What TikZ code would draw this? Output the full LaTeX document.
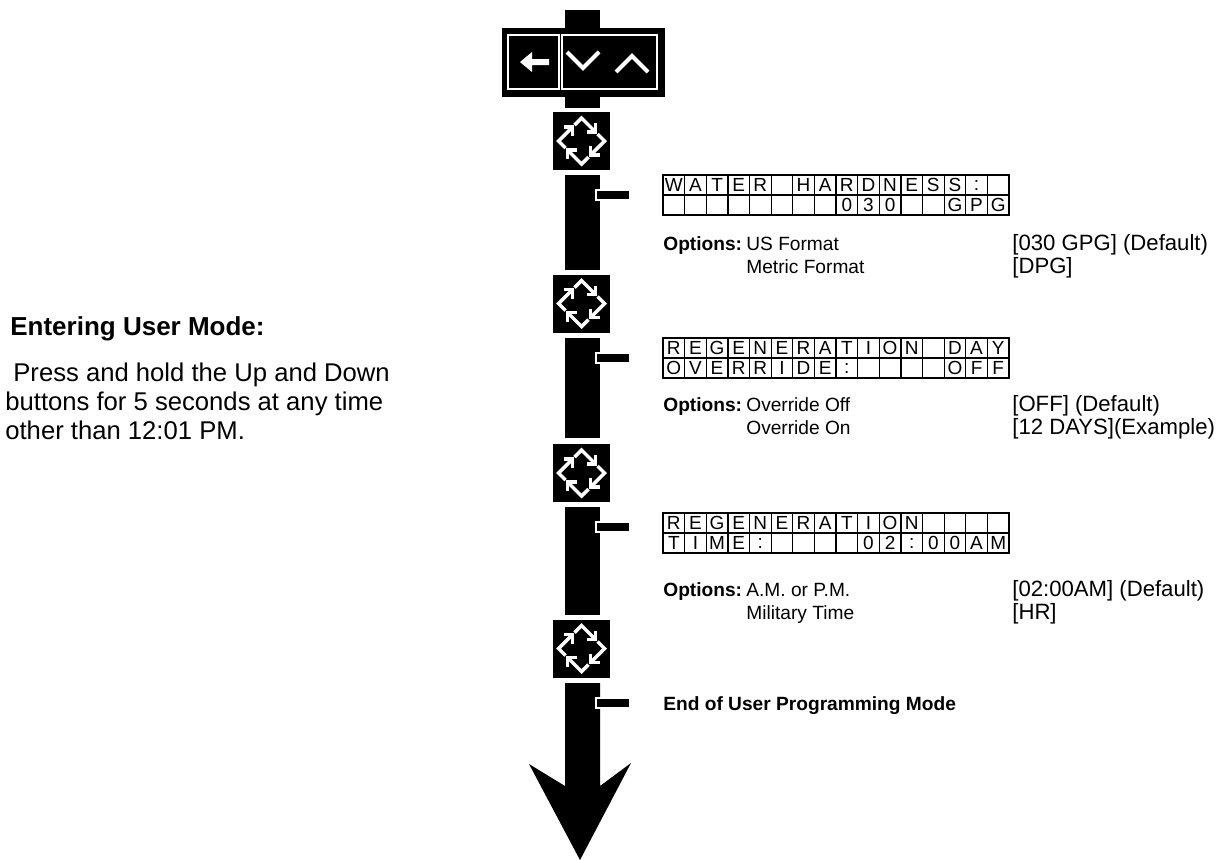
\documentclass[tikz,border=0pt]{standalone}
\usepackage{fontspec}
\setmainfont{Liberation Sans}
\begin{document}
\begin{tikzpicture}[x=0.02cm, y=-0.02cm,
  stembar/.style={fill=black},
  tickbar/.style={fill=black, draw=white, line width=0.6pt},
  cyclebox/.style={fill=black, minimum width=1.14cm, minimum height=1.16cm, inner sep=0},
  cyclearrow/.style={white, line width=2pt},
  keyline/.style={white, line width=1.1pt},
  lcdcell/.style={draw, line width=0.7pt, minimum width=0.4325cm, minimum height=0.4cm, inner sep=0, font=\fontsize{10.8pt}{11pt}\selectfont},
  headtext/.style={inner sep=0, anchor=base west, font=\bfseries\fontsize{14.8pt}{16pt}\selectfont},
  lefttext/.style={inner sep=0, anchor=base west, font=\fontsize{14.6pt}{16pt}\selectfont},
  opttext/.style={inner sep=0, anchor=base west, font=\fontsize{10.9pt}{12pt}\selectfont},
  valtext/.style={inner sep=0, anchor=base west, font=\fontsize{12.6pt}{13pt}\selectfont}]
\useasboundingbox (0,0) rectangle (1220,860);

% key panel
\fill (502,28) rectangle (665,97);
\draw[keyline] (508,35) rectangle (559,89);
\draw[keyline] (562,35) rectangle (657,89);
\fill[white] (520,62) -- (532,52) -- (532,59) -- (549,59) -- (549,65) -- (532,65) -- (532,72) -- cycle;
\draw[white, line width=2.4pt] (567,52) -- (583,68) -- (599,52);
\draw[white, line width=2.4pt] (616,72) -- (632,56) -- (648,72);

% stem
\foreach \ya/\yb in {10/28, 97/108, 175/270, 338/438, 507/615}
  \fill[stembar] (565,\ya) rectangle (600,\yb);
\fill[stembar] (565,683) -- (565,786) -- (529,764) -- (580,860) -- (631,763) -- (600,786) -- (600,683) -- cycle;
\foreach \y in {195,358,527,703}
  \draw[tickbar] (596,\y-5) rectangle (630,\y+5);

% cycle keys
\foreach \y [count=\k] in {141,303.5,473,648.5} {
  \node[cyclebox] (cyc\k) at (581.5,\y) {};
  \foreach \a in {0,90,180,270} {
    \begin{scope}[shift={(cyc\k.center)}, rotate=\a]
      \draw[cyclearrow] (-7,-16) -- (0,-23) -- (14,-9);
      \draw[cyclearrow] (5,-9) -- (14,-9) -- (14,-18);
    \end{scope}
  }
}

% displays
\foreach \c [count=\i] in {W,A,T,E,R,{},H,A,R,D,N,E,S,S,:,{}}
  \node[lcdcell] (hard\i) at ({663+21.625*(\i-0.5)},185) {\c};
\foreach \c [count=\i] in {{},{},{},{},{},{},{},{},0,3,0,{},{},G,P,G}
  \node[lcdcell] (gpg\i) at ({663+21.625*(\i-0.5)},205) {\c};
\foreach \c [count=\i] in {R,E,G,E,N,E,R,A,T,I,O,N,{},D,A,Y}
  \node[lcdcell] (day\i) at ({663+21.625*(\i-0.5)},348) {\c};
\foreach \c [count=\i] in {O,V,E,R,R,I,D,E,:,{},{},{},{},O,F,F}
  \node[lcdcell] (ovr\i) at ({663+21.625*(\i-0.5)},368) {\c};
\foreach \c [count=\i] in {R,E,G,E,N,E,R,A,T,I,O,N,{},{},{},{}}
  \node[lcdcell] (regen\i) at ({663+21.625*(\i-0.5)},523) {\c};
\foreach \c [count=\i] in {T,I,M,E,:,{},{},{},{},0,2,:,0,0,A,M}
  \node[lcdcell] (time\i) at ({663+21.625*(\i-0.5)},543) {\c};

% left text
\node[headtext] (entering) at (10,335) {Entering User Mode:};
\node[lefttext] (press) at (13,381) {Press and hold the Up and Down};
\node[lefttext] (buttons) at (5,410) {buttons for 5 seconds at any time};
\node[lefttext] (other) at (5,439) {other than 12:01 PM.};

% options
\node[opttext] (opt1) at (663,250) {\bfseries Options:};
\node[opttext] (us) at (746,250) {US Format};
\node[opttext] (metric) at (746,273) {Metric Format};
\node[valtext] (gpgdef) at (1012,250) {[030 GPG] (Default)};
\node[valtext] (dpg) at (1012,273) {[DPG]};

\node[opttext] (opt2) at (663,411) {\bfseries Options:};
\node[opttext] (ovroff) at (746,411) {Override Off};
\node[opttext] (ovron) at (746,434) {Override On};
\node[valtext] (offdef) at (1012,411) {[OFF] (Default)};
\node[valtext] (days) at (1012,434) {[12 DAYS](Example)};

\node[opttext] (opt3) at (663,596) {\bfseries Options:};
\node[opttext] (ampm) at (746,596) {A.M. or P.M.};
\node[opttext] (military) at (746,619) {Military Time};
\node[valtext] (amdef) at (1012,596) {[02:00AM] (Default)};
\node[valtext] (hr) at (1012,619) {[HR]};

\node[opttext] (endmode) at (663,710) {\bfseries End of User Programming Mode};
\end{tikzpicture}
\end{document}
